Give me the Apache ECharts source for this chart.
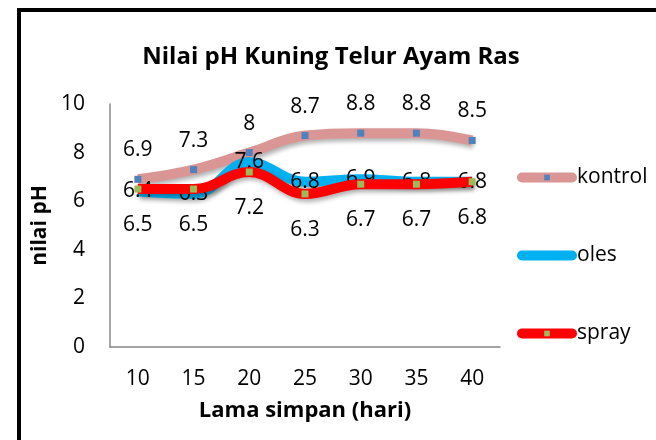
<!DOCTYPE html>
<html>
<head>
<meta charset="utf-8">
<script src="https://cdn.jsdelivr.net/npm/echarts@6/dist/echarts.min.js"></script>
<style>
html,body{margin:0;padding:0;background:#fff;}
#c{width:656px;height:440px;}
</style>
</head>
<body>
<div id="c"></div>
<script>
const categories = ['10','15','20','25','30','35','40'];
const kontrol = [6.9, 7.3, 8, 8.7, 8.8, 8.8, 8.5];
const oles = [6.4, 6.3, 7.6, 6.8, 6.9, 6.8, 6.8];
const spray = [6.5, 6.5, 7.2, 6.3, 6.7, 6.7, 6.8];
const yTicks = [0, 2, 4, 6, 8, 10];

const FONT = 'Open Sans';
const chart = echarts.init(document.getElementById('c'));
const shadow = {shadowColor:'rgba(0,0,0,0.3)', shadowBlur:4, shadowOffsetX:2, shadowOffsetY:3};
const lbl = {color:'#000', fontSize:21, fontFamily:FONT};
chart.setOption({
  animation:false,
  graphic:[{type:'rect', shape:{x:19, y:10, width:700, height:500}, style:{fill:'none', stroke:'#000', lineWidth:4}, z:-1}],
  title:{text:'Nilai pH Kuning Telur Ayam Ras', left:326, textAlign:'center', top:40,
    textStyle:{fontFamily:FONT, fontWeight:'bold', fontSize:24, color:'#000'}},
  grid:{left:110, top:104, width:390, height:243, containLabel:false},
  legend:{orient:'vertical', left:512, top:162, itemGap:57, itemWidth:50, itemHeight:7,
    lineStyle:{width:10, cap:'round'},
    textStyle:{fontFamily:FONT, fontSize:21, color:'#000'},
    data:['kontrol','oles','spray']},
  xAxis:{type:'category', data:categories, boundaryGap:true,
    name:'Lama simpan (hari)', nameLocation:'middle', nameGap:53,
    nameTextStyle:{fontFamily:FONT, fontWeight:'bold', fontSize:22, color:'#000'},
    axisLine:{lineStyle:{color:'#888', width:1.5}}, axisTick:{show:false},
    axisLabel:{fontFamily:FONT, fontSize:21, color:'#000', margin:22}},
  yAxis:{type:'value', min:0, max:10, interval:2,
    name:'nilai pH', nameLocation:'middle', nameGap:58,
    nameTextStyle:{fontFamily:FONT, fontWeight:'bold', fontSize:21, color:'#000'},
    axisLine:{show:true, lineStyle:{color:'#888', width:1.5}}, axisTick:{show:false},
    splitLine:{show:false},
    axisLabel:{fontFamily:FONT, fontSize:21, color:'#000', margin:25,
      formatter:v=> yTicks.includes(v) ? String(v) : ''}},
  series:[
    {name:'kontrol', type:'line', smooth:0.4, data:kontrol, symbol:'rect', symbolSize:7,
      itemStyle:{color:'#4F81BD'}, lineStyle:Object.assign({color:'#D99694', width:10}, shadow),
      label:Object.assign({show:true, position:'top', distance:15}, lbl), z:2},
    {name:'oles', type:'line', smooth:0.4, data:oles, symbol:'circle', symbolSize:0.1,
      itemStyle:{color:'#00B0F0'}, lineStyle:Object.assign({color:'#00B0F0', width:10}, shadow),
      label:Object.assign({show:true, position:'inside'}, lbl), z:3},
    {name:'spray', type:'line', smooth:0.4, data:spray, symbol:'rect', symbolSize:7,
      itemStyle:{color:'#9BBB59'}, lineStyle:Object.assign({color:'#FF0000', width:10}, shadow),
      label:Object.assign({show:true, position:'bottom', distance:22}, lbl), z:4}
  ]
});
</script>
</body>
</html>
